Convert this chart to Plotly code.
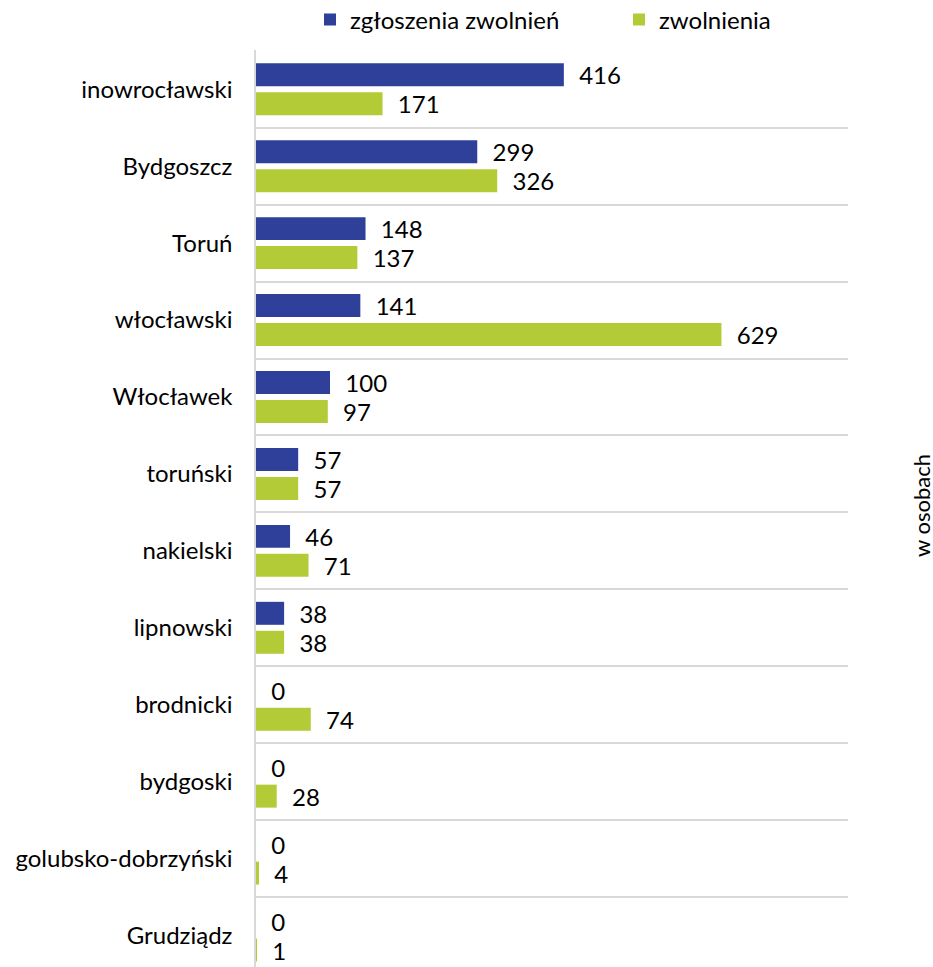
import plotly.graph_objects as go

categories = ["inowrocławski", "Bydgoszcz", "Toruń", "włocławski", "Włocławek", "toruński",
              "nakielski", "lipnowski", "brodnicki", "bydgoski", "golubsko-dobrzyński", "Grudziądz"]
zgloszenia = [416, 299, 148, 141, 100, 57, 46, 38, 0, 0, 0, 0]
zwolnienia = [171, 326, 137, 629, 97, 57, 71, 38, 74, 28, 4, 1]
series_names = ["zgłoszenia zwolnień", "zwolnienia"]
colors = ["#2E4099", "#B3CB36"]

FONT = "Lato"
FS = 24
fig = go.Figure()
for i, (name, vals, col) in enumerate(zip(series_names, [zgloszenia, zwolnienia], colors)):
    fig.add_trace(go.Bar(
        y=categories, x=vals, name=name, orientation="h",
        marker=dict(color=col, line=dict(width=0)),
        text=vals, texttemplate="  %{x}", textposition="outside",
        textfont=dict(family=FONT, size=FS, color="#000000"),
        constraintext="none", cliponaxis=False,
        legend="legend" if i == 0 else "legend2",
    ))

leg_common = dict(orientation="h", xref="container", yref="container",
                  yanchor="middle", xanchor="left", y=1 - 20 / 967,
                  font=dict(family=FONT, size=FS, color="#000000"),
                  bgcolor="rgba(0,0,0,0)")

fig.update_layout(
    width=933, height=967,
    margin=dict(l=256, r=85, t=50, b=0, autoexpand=False),
    paper_bgcolor="white", plot_bgcolor="white",
    barmode="group", bargap=0.247, bargroupgap=0.207,
    font=dict(family=FONT, size=FS, color="#000000"),
    showlegend=True,
    legend=dict(x=310 / 933, **leg_common),
    legend2=dict(x=619 / 933, **leg_common),
    xaxis=dict(range=[0, 800], showgrid=False, showticklabels=False, zeroline=False,
               showline=False, ticks="", fixedrange=True),
    yaxis=dict(type="category", range=[11.409, -0.51], tickson="boundaries",
               showgrid=True, gridcolor="#D9D9D9", gridwidth=1.5,
               showline=True, linecolor="#D9D9D9", linewidth=1.5,
               ticks="", ticklabelstandoff=17, automargin=False,
               tickfont=dict(family=FONT, size=FS, color="#000000")),
    annotations=[dict(text="w osobach", xref="paper", yref="paper", x=(921 - 256) / 592,
                      y=(967 - 506) / 917, xanchor="center", yanchor="middle",
                      textangle=-90, showarrow=False,
                      font=dict(family=FONT, size=22, color="#000000"))],
)

fig.write_html("out.html", config={"displayModeBar": False},
               post_script="document.body.style.margin='0';")
